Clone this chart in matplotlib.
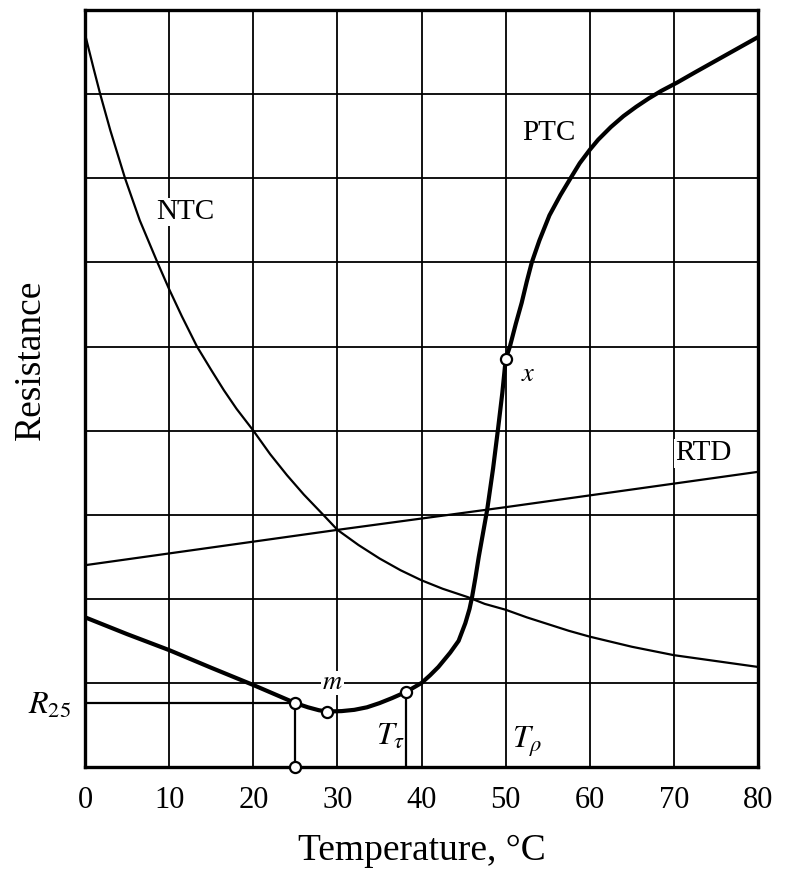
import numpy as np
import matplotlib
matplotlib.use("Agg")
import matplotlib.pyplot as plt

plt.rcParams['font.family'] = ['Liberation Serif', 'DejaVu Serif']
plt.rcParams['mathtext.fontset'] = 'stix'

# temperature (degC) / relative resistance
ntc_t = [0, 1, 1.8, 3, 4.75, 6.5, 8.6, 10, 11.5, 13.3, 15, 16.5, 18, 20, 22, 24, 26, 28.3, 30,
         32.5, 35, 37.5, 40, 42.5, 45.5, 47.5, 50, 52.5, 55, 57.5, 60, 62.5, 65, 67.5, 70, 72.5, 75, 77.5, 80]
ntc_r = [8.71, 8.31, 8.0, 7.57, 7.0, 6.5, 6.0, 5.68, 5.36, 5.0, 4.72, 4.48, 4.26, 4.0, 3.72, 3.47, 3.24, 3.0, 2.82,
         2.64, 2.48, 2.34, 2.22, 2.12, 2.02, 1.94, 1.87, 1.78, 1.70, 1.62, 1.55, 1.49, 1.43, 1.38, 1.33, 1.295, 1.26, 1.225, 1.19]

rtd_t = [0, 20, 30, 50, 80]
rtd_r = [2.40, 2.68, 2.82, 3.09, 3.51]

ptc_t = [0, 5, 10, 15, 20, 25, 26.5, 27.8, 28.8, 30.5, 32, 33.5, 35, 36.5, 38.2, 40, 41, 42, 43.4, 44.4,
         45.2, 45.7, 46.0, 46.4, 46.8, 47.3, 47.8, 48.5, 49.1, 49.6, 50.0, 50.5, 51.2, 51.9, 52.5, 53.1,
         54, 55.2, 56.5, 57.7, 58.8, 60.0, 61, 62.5, 64, 65.5, 67, 68.5, 70.4, 72.5, 75, 77.5, 80]
ptc_r = [1.78, 1.58, 1.39, 1.18, 0.975, 0.76, 0.71, 0.675, 0.66, 0.665, 0.68, 0.71, 0.76, 0.82, 0.895, 1.0, 1.09, 1.19, 1.36, 1.50,
         1.71, 1.88, 2.02, 2.25, 2.50, 2.78, 3.06, 3.55, 4.03, 4.45, 4.85, 5.0, 5.27, 5.52, 5.77, 6.0,
         6.26, 6.56, 6.80, 7.0, 7.18, 7.34, 7.46, 7.61, 7.74, 7.85, 7.95, 8.04, 8.14, 8.26, 8.40, 8.54, 8.68]

# marked points on the PTC curve: R25, minimum m, T_tau, x
R25 = 0.76
pts_t = [25, 28.8, 38.2, 50.0]
pts_r = [R25, 0.66, 0.895, 4.85]

x_ticks = [0, 10, 20, 30, 40, 50, 60, 70, 80]
y_grid = [1, 2, 3, 4, 5, 6, 7, 8]

fig = plt.figure(figsize=(7.88, 8.75), dpi=100)
ax = fig.add_axes([0.108, 0.1234, 0.854, 0.865])

ax.set_xlim(0, 80)
ax.set_ylim(0, 9)
ax.set_xticks(x_ticks)
ax.set_yticks([R25])
ax.set_yticklabels([r'$R_{25}$'])
ax.set_yticks(y_grid, minor=True)
ax.tick_params(which='both', length=0)
ax.tick_params(axis='x', labelsize=22, pad=14)
ax.tick_params(axis='y', labelsize=23, pad=10)
ax.grid(True, axis='x', which='major', color='black', lw=1.3, zorder=0)
ax.grid(True, axis='y', which='minor', color='black', lw=1.3, zorder=0)
for s in ax.spines.values():
    s.set_linewidth(2.4)
    s.set_zorder(5)

ax.plot(ntc_t, ntc_r, color='black', lw=1.6, zorder=3)
ax.plot(rtd_t, rtd_r, color='black', lw=1.6, zorder=3)
ax.plot(ptc_t, ptc_r, color='black', lw=3.0, zorder=3, solid_joinstyle='round')

# R25 guide and the drop lines to the axis
ax.plot([0, pts_t[0]], [R25, R25], color='black', lw=1.6, zorder=3)
ax.plot([pts_t[0], pts_t[0]], [0, R25], color='black', lw=1.6, zorder=3)
ax.plot([pts_t[2], pts_t[2]], [0, pts_r[2]], color='black', lw=1.6, zorder=3)

ax.plot(pts_t, pts_r, 'o', ms=8, mfc='white', mec='black', mew=1.6, zorder=6, clip_on=False)
ax.plot([pts_t[0]], [0], 'o', ms=8, mfc='white', mec='black', mew=1.6, zorder=6, clip_on=False)

box = dict(facecolor='white', edgecolor='none', pad=1)
ax.text(11.9, 6.6, 'NTC', fontsize=21, ha='center', va='center', bbox=box, zorder=4)
ax.text(55.1, 7.54, 'PTC', fontsize=21, ha='center', va='center', zorder=4)
ax.text(73.5, 3.73, 'RTD', fontsize=21, ha='center', va='center', bbox=box, zorder=4)
ax.text(52.7, 4.66, r'$x$', fontsize=19, ha='center', va='center', zorder=4)
ax.text(29.4, 1.0, r'$m$', fontsize=19, ha='center', va='center', bbox=box, zorder=4)
ax.text(36.3, 0.36, r'$T_\tau$', fontsize=23, ha='center', va='center', zorder=4)
ax.text(52.6, 0.30, r'$T_\rho$', fontsize=23, ha='center', va='center', zorder=4)

ax.set_xlabel('Temperature, °C', fontsize=27, labelpad=13)
ax.set_ylabel('Resistance', fontsize=27)
ax.yaxis.set_label_coords(-0.055, 0.538)

fig.savefig('out.png', dpi=100)
